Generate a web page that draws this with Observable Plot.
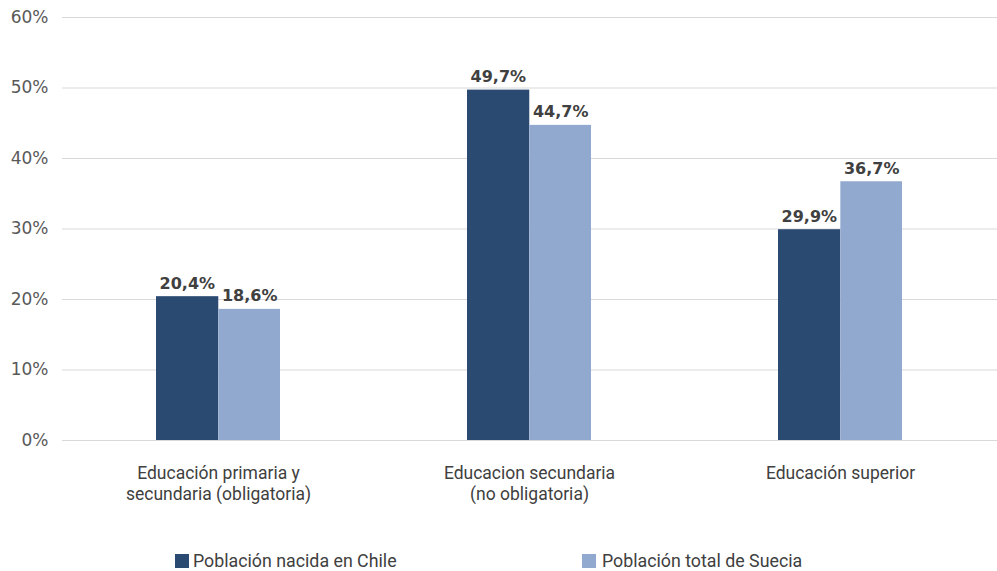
<!DOCTYPE html>
<html>
<head>
<meta charset="utf-8">
<script src="https://cdn.jsdelivr.net/npm/d3@7"></script>
<script src="https://cdn.jsdelivr.net/npm/@observablehq/plot@0.6"></script>
<style>
  body { margin: 0; background: #fff; }
  #wrap { position: relative; width: 997px; height: 571px; overflow: hidden; }
  .leg { position: absolute; top: 550px; display: flex; align-items: center; font-family: Roboto, sans-serif; font-size: 17.8px; color: #404040; }
  .sw { width: 14px; height: 14px; margin-right: 4px; }
</style>
</head>
<body>
<div id="wrap"></div>
<script>
const categories = [
  "Educación primaria y\nsecundaria (obligatoria)",
  "Educacion secundaria\n(no obligatoria)",
  "Educación superior"
];
const seriesNames = ["Población nacida en Chile", "Población total de Suecia"];
const chile = [20.4, 49.7, 29.9];
const suecia = [18.6, 44.7, 36.7];
const yTicks = [0, 10, 20, 30, 40, 50, 60];
const colors = ["#2B4A72", "#91A9CF"];

const chileRows = categories.map((c, i) => ({cat: c, serie: seriesNames[0], value: chile[i]}));
const sueciaRows = categories.map((c, i) => ({cat: c, serie: seriesNames[1], value: suecia[i]}));

const W = 997, ML = 62, MR = 0;
const step = (W - ML - MR) / 3;
const bw = step * 0.4;
const half = bw / 2;
const fmt = v => v.toFixed(1).replace(".", ",") + "%";

const chart = Plot.plot({
  width: W,
  height: 530,
  marginLeft: ML,
  marginRight: MR,
  marginTop: 17,
  marginBottom: 90,
  style: {fontFamily: "DejaVu Sans", color: "#595959", background: "#fff"},
  x: {domain: categories, paddingInner: 0.6, paddingOuter: 0.3, axis: null},
  y: {domain: [0, 60], axis: null},
  marks: [
    Plot.gridY(yTicks, {stroke: "#d9d9d9", strokeOpacity: 1, strokeWidth: 1}),
    Plot.barY(chileRows, {x: "cat", y: "value", fill: colors[0], insetRight: half - 0.6}),
    Plot.barY(sueciaRows, {x: "cat", y: "value", fill: colors[1], insetLeft: half}),
    Plot.text(chileRows, {x: "cat", y: "value", text: d => fmt(d.value), dx: -half / 2, dy: -8, lineAnchor: "bottom", fontWeight: "bold", fontSize: 16, fill: "#404040", fontFamily: "DejaVu Sans"}),
    Plot.text(sueciaRows, {x: "cat", y: "value", text: d => fmt(d.value), dx: half / 2, dy: -8, lineAnchor: "bottom", fontWeight: "bold", fontSize: 16, fill: "#404040", fontFamily: "DejaVu Sans"}),
    Plot.axisY(yTicks, {tickFormat: d => d + "%", tickSize: 0, tickPadding: 14, fontSize: 17, fill: "#595959", label: null, fontFamily: "DejaVu Sans"}),
    Plot.axisX({tickSize: 0, tickPadding: 24, fontSize: 17.5, lineHeight: 1.2, fill: "#404040", label: null, fontFamily: "Roboto"})
  ]
});
const wrap = document.getElementById("wrap");
wrap.appendChild(chart);

const legPos = [[175, 193], [582, 602]];
seriesNames.forEach((name, i) => {
  const d = document.createElement("div");
  d.className = "leg";
  d.style.left = legPos[i][0] + "px";
  const sw = document.createElement("span");
  sw.className = "sw";
  sw.style.background = colors[i];
  sw.style.marginRight = (legPos[i][1] - legPos[i][0] - 14) + "px";
  const t = document.createElement("span");
  t.textContent = name;
  d.appendChild(sw);
  d.appendChild(t);
  wrap.appendChild(d);
});
</script>
</body>
</html>
